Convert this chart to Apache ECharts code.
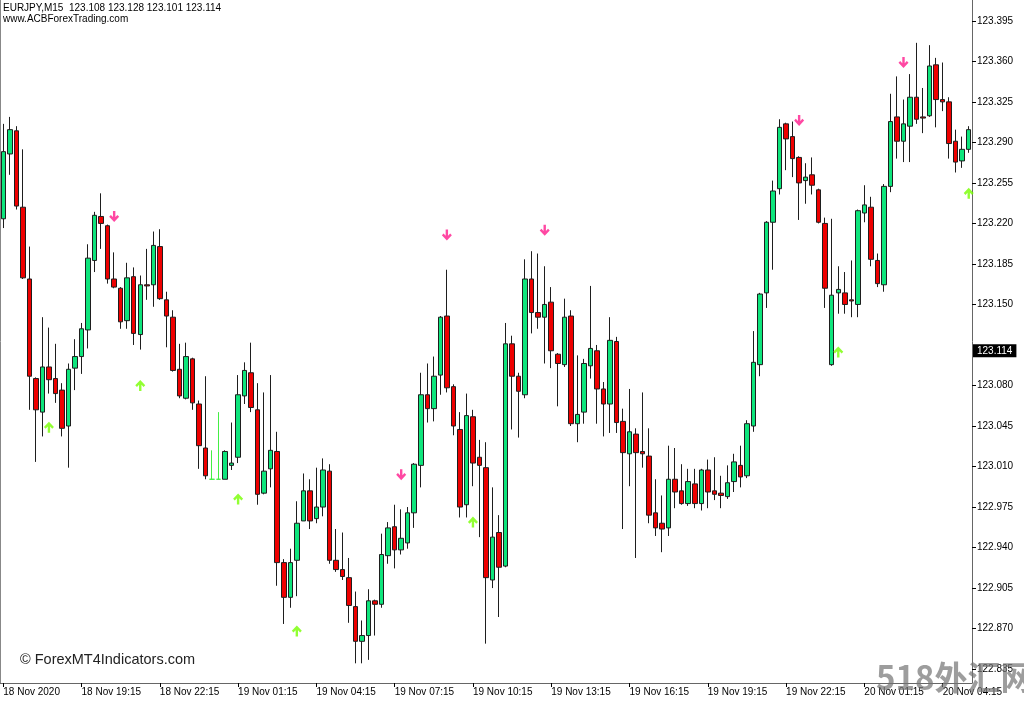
<!DOCTYPE html>
<html>
<head>
<meta charset="utf-8">
<script src="https://cdn.jsdelivr.net/npm/echarts@6/dist/echarts.min.js"></script>
<style>html,body{margin:0;padding:0;background:#fff}#c{width:1024px;height:704px}</style>
</head>
<body>
<div id="c"></div>
<script>
const symbolName = 'EURJPY,M15';
const headerOHLC = [123.108, 123.128, 123.101, 123.114];
const siteText = 'www.ACBForexTrading.com';
const copyText = '© ForexMT4Indicators.com';
const watermark = '518外汇网';
const lastPrice = 123.114;

const tickLabels = ['18 Nov 2020','18 Nov 19:15','18 Nov 22:15','19 Nov 01:15','19 Nov 04:15','19 Nov 07:15','19 Nov 10:15','19 Nov 13:15','19 Nov 16:15','19 Nov 19:15','19 Nov 22:15','20 Nov 01:15','20 Nov 04:15'];
const priceTicks = [122.835,122.870,122.905,122.940,122.975,123.010,123.045,123.080,123.150,123.185,123.220,123.255,123.290,123.325,123.360,123.395];

const opens = [123.224,123.280,123.300,123.234,123.172,123.086,123.057,123.096,123.086,123.076,
123.045,123.095,123.105,123.128,123.188,123.226,123.218,123.172,123.164,123.136,
123.174,123.124,123.167,123.167,123.200,123.154,123.139,123.094,123.069,123.103,
123.064,123.026,122.999,122.999,122.999,123.011,123.018,123.071,123.091,123.059,
122.987,123.008,123.023,122.927,122.897,122.929,122.963,122.989,122.965,122.975,
123.006,122.929,122.921,122.914,122.889,122.859,122.864,122.894,122.891,122.933,
122.958,122.938,122.944,122.970,123.011,123.072,123.060,123.089,123.140,123.079,
123.042,122.977,123.053,123.018,123.009,122.912,122.953,122.924,123.116,123.088,
123.072,123.172,123.143,123.139,123.152,123.107,123.098,123.140,123.047,123.057,
123.097,123.110,123.077,123.064,123.118,123.049,123.021,123.038,123.023,123.019,
122.970,122.961,122.957,122.999,122.989,122.978,122.995,122.978,123.007,122.989,
122.987,122.984,122.997,123.011,123.002,123.045,123.098,123.160,123.221,123.250,
123.306,123.295,123.277,123.257,123.262,123.249,123.220,123.098,123.160,123.160,
123.154,123.150,123.229,123.234,123.188,123.167,123.252,123.312,123.291,123.304,
123.329,123.312,123.313,123.357,123.327,123.325,123.291,123.274,123.284];
const highs = [123.306,123.312,123.304,123.284,123.200,123.087,123.139,123.130,123.116,123.082,
123.099,123.120,123.134,123.202,123.230,123.246,123.219,123.195,123.165,123.186,
123.182,123.175,123.198,123.213,123.215,123.161,123.145,123.116,123.117,123.104,
123.067,123.088,123.024,123.057,123.024,123.048,123.089,123.100,123.117,123.082,
123.074,123.089,123.040,122.930,122.939,122.980,123.004,122.999,123.009,123.017,
123.012,122.956,122.953,122.931,122.902,122.877,122.904,122.895,122.952,122.962,
122.977,122.973,122.975,123.013,123.091,123.099,123.105,123.140,123.180,123.081,
123.057,123.073,123.059,123.033,123.031,122.992,122.968,123.134,123.123,123.091,
123.189,123.196,123.194,123.183,123.165,123.108,123.155,123.145,123.106,123.103,
123.166,123.115,123.083,123.139,123.122,123.060,123.077,123.043,123.074,123.043,
122.999,122.985,123.028,123.026,123.012,123.008,123.008,123.008,123.016,123.018,
123.002,123.011,123.021,123.028,123.050,123.127,123.160,123.222,123.257,123.310,
123.307,123.308,123.278,123.272,123.277,123.250,123.225,123.224,123.183,123.178,
123.188,123.232,123.253,123.243,123.194,123.254,123.332,123.347,123.327,123.349,
123.376,123.337,123.374,123.363,123.359,123.329,123.301,123.295,123.304];
const lows = [123.216,123.262,123.232,123.172,123.059,123.014,123.036,123.073,123.065,123.036,
123.009,123.076,123.090,123.112,123.178,123.198,123.168,123.164,123.129,123.129,
123.115,123.111,123.154,123.148,123.154,123.113,123.092,123.069,123.068,123.059,
123.008,122.999,122.999,122.999,122.999,123.007,123.013,123.064,123.057,122.977,
122.986,122.992,122.907,122.874,122.888,122.898,122.963,122.956,122.961,122.967,
122.926,122.919,122.912,122.875,122.840,122.840,122.843,122.864,122.888,122.926,
122.922,122.934,122.939,122.957,122.992,123.048,123.049,123.072,123.074,123.037,
122.966,122.966,122.993,122.949,122.857,122.905,122.880,122.923,123.042,123.035,
123.069,123.125,123.129,123.099,123.095,123.062,123.096,123.045,123.031,123.047,
123.086,123.047,123.036,123.039,123.039,122.956,122.993,122.931,123.009,122.961,
122.950,122.936,122.950,122.974,122.977,122.976,122.974,122.972,122.974,122.981,
122.974,122.982,122.988,122.992,123.000,123.040,123.088,123.147,123.180,123.245,
123.266,123.260,123.223,123.237,123.245,123.220,123.147,123.097,123.142,123.142,
123.139,123.139,123.221,123.183,123.165,123.161,123.247,123.276,123.273,123.273,
123.306,123.298,123.312,123.303,123.317,123.276,123.264,123.268,123.281];
const closes = [123.282,123.301,123.235,123.173,123.088,123.059,123.096,123.085,123.073,123.043,
123.094,123.105,123.129,123.190,123.227,123.220,123.172,123.165,123.135,123.173,
123.125,123.167,123.166,123.201,123.155,123.140,123.093,123.071,123.105,123.065,
123.028,123.002,122.999,122.999,123.023,123.013,123.072,123.093,123.061,122.986,
123.006,123.024,122.927,122.897,122.927,122.961,122.989,122.963,122.975,123.007,
122.929,122.921,122.915,122.890,122.859,122.864,122.894,122.891,122.934,122.957,
122.938,122.948,122.970,123.012,123.072,123.060,123.088,123.139,123.078,123.045,
122.975,123.054,123.013,123.011,122.914,122.949,122.923,123.116,123.088,123.075,
123.172,123.143,123.139,123.150,123.110,123.099,123.139,123.047,123.055,123.099,
123.112,123.077,123.064,123.119,123.048,123.022,123.040,123.022,123.021,122.968,
122.957,122.956,122.999,122.988,122.978,122.997,122.978,123.007,122.988,122.986,
122.985,122.996,123.014,123.001,123.047,123.100,123.159,123.221,123.248,123.303,
123.293,123.276,123.255,123.260,123.253,123.221,123.164,123.158,123.163,123.150,
123.153,123.231,123.236,123.189,123.168,123.252,123.308,123.291,123.306,123.329,
123.310,123.311,123.356,123.327,123.325,123.289,123.273,123.284,123.301];
const limeBars = [32, 33];
const downArrows = [[17,123.226],[61,123.003],[68,123.210],[83,123.214],[122,123.309],[138,123.359]];
const upArrows = [[7,123.044],[21,123.080],[36,122.982],[45,122.868],[72,122.962],[128,123.109],[148,123.246]];

const cats = opens.map((_, i) => String(i));
const UP = '#0ee57c', DOWN = '#ee0000', LIME = '#44ee44', EDGE = '#1e1e1e';
const candleData = opens.map((o, i) => {
  const item = { value: [o, closes[i], lows[i], highs[i]] };
  if (limeBars.indexOf(i) >= 0) {
    item.itemStyle = { color: LIME, color0: LIME, borderColor: LIME, borderColor0: LIME, borderColorDoji: LIME };
  }
  return item;
});
const FONT = '"Liberation Sans", Arial, sans-serif';
const yMin = 122.823, yMax = 123.413;
const downPath = 'path://M3.8,0L6.2,0L6.2,5.8L8.3,3.7L10,5.4L5,10.4L0,5.4L1.7,3.7L3.8,5.8Z';
const upPath = 'path://M3.8,10.4L6.2,10.4L6.2,4.6L8.3,6.7L10,5L5,0L0,5L1.7,6.7L3.8,4.6Z';

const chart = echarts.init(document.getElementById('c'), null, { renderer: 'canvas' });
chart.setOption({
  animation: false,
  backgroundColor: '#fff',
  grid: { left: 0, right: 52, top: 0, bottom: 21, containLabel: false },
  xAxis: {
    type: 'category', data: cats, boundaryGap: true,
    axisLine: { show: true, lineStyle: { color: '#666', width: 1 } },
    axisTick: { show: true, alignWithLabel: true, interval: 11, length: 4, lineStyle: { color: '#000' } },
    axisLabel: { interval: 11, align: 'left', margin: 4, fontSize: 10, fontFamily: FONT, color: '#000',
      formatter: (v, idx) => (idx % 12 === 0 ? (tickLabels[idx / 12] || '') : '') },
    splitLine: { show: false }
  },
  yAxis: [{
    type: 'value', position: 'right', min: yMin, max: yMax,
    axisLine: { show: true, lineStyle: { color: '#666', width: 1 } },
    axisTick: { show: true, length: 4, customValues: priceTicks, lineStyle: { color: '#000' } },
    axisLabel: { show: true, customValues: priceTicks, margin: 5, fontSize: 10, fontFamily: FONT, color: '#000',
      formatter: v => Number(v).toFixed(3) },
    splitLine: { show: false }
  }, {
    type: 'value', position: 'left', min: yMin, max: yMax,
    axisLine: { show: true, lineStyle: { color: '#888', width: 1 } },
    axisTick: { show: false }, axisLabel: { show: false }, splitLine: { show: false }
  }],
  series: [{
    type: 'candlestick', data: candleData, barWidth: 5,
    itemStyle: { color: UP, color0: DOWN, borderColor: EDGE, borderColor0: EDGE, borderColorDoji: EDGE, borderWidth: 1 },
    markLine: {
      silent: true, symbol: ['none', 'none'], animation: false,
      lineStyle: { color: 'rgba(0,0,0,0)', width: 1, type: 'solid' },
      label: { show: true, position: 'end', distance: 1, formatter: lastPrice.toFixed(3),
        backgroundColor: '#000', color: '#fff', fontSize: 10, fontFamily: FONT, padding: [2, 4, 1, 4] },
      data: [{ yAxis: lastPrice }]
    }
  }, {
    type: 'scatter', data: downArrows, symbol: downPath, symbolSize: [10, 11],
    itemStyle: { color: '#ff1a8c' }, z: 5, silent: true
  }, {
    type: 'scatter', data: upArrows, symbol: upPath, symbolSize: [10, 11],
    itemStyle: { color: '#77ff00' }, z: 5, silent: true
  }],
  graphic: [
    { type: 'text', left: 3, top: 3, style: { text: symbolName + '  ' + headerOHLC.map(v => v.toFixed(3)).join(' '), font: '10px ' + FONT, fill: '#000' } },
    { type: 'text', left: 3, top: 14, style: { text: siteText, font: '10px ' + FONT, fill: '#000' } },
    { type: 'text', left: 20, top: 652, style: { text: copyText, font: '14.5px ' + FONT, fill: '#222' } },
    { type: 'text', left: 876, top: 661, z: 100, style: { text: watermark, font: 'bold 33px "Noto Sans CJK SC"', fill: 'rgba(115,115,115,0.7)' } }
  ]
});
</script>
</body>
</html>
